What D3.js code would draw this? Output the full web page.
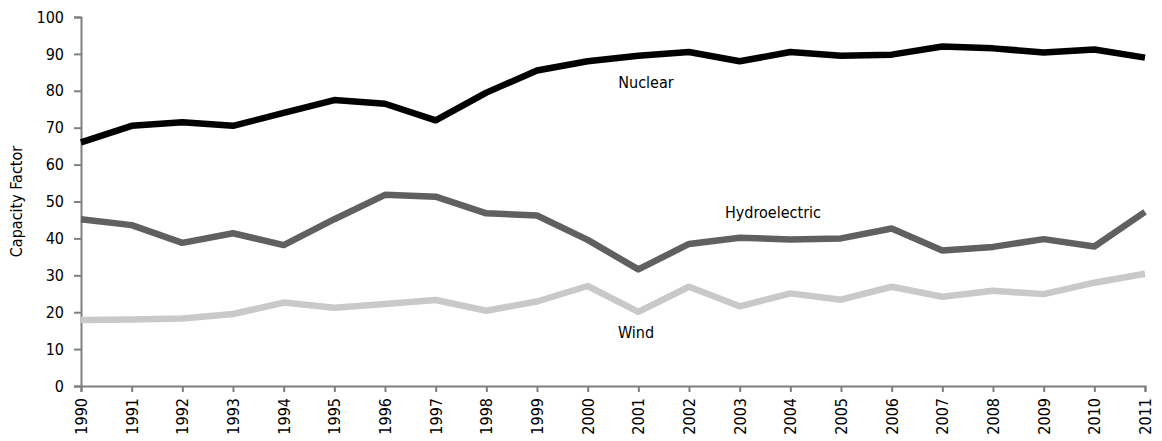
<!DOCTYPE html>
<html>
<head>
<meta charset="utf-8">
<script src="https://cdn.jsdelivr.net/npm/d3@7"></script>
<style>
  body { margin: 0; background: #fff; }
  text { font-family: "DejaVu Sans Condensed", "DejaVu Sans", sans-serif; }
</style>
</head>
<body>
<div id="capacity_factor"></div>
<script>
// data
var years = [1990, 1991, 1992, 1993, 1994, 1995, 1996, 1997, 1998, 1999, 2000,
             2001, 2002, 2003, 2004, 2005, 2006, 2007, 2008, 2009, 2010, 2011];
var nuclear = [66, 70.5, 71.5, 70.5, 74, 77.5, 76.5, 72, 79.5, 85.5, 88,
               89.5, 90.5, 88, 90.5, 89.5, 89.8, 92, 91.5, 90.4, 91.2, 89];
var hydro = [45.2, 43.6, 38.8, 41.4, 38.2, 45.2, 51.8, 51.3, 46.8, 46.2, 39.6,
             31.6, 38.5, 40.2, 39.7, 40, 42.7, 36.7, 37.7, 39.8, 37.8, 47.2];
var wind = [17.9, 18, 18.3, 19.5, 22.6, 21.2, 22.2, 23.3, 20.4, 22.9, 27.1,
            20.1, 26.9, 21.6, 25.1, 23.4, 26.9, 24.2, 25.8, 24.9, 28, 30.4];
var yTicks = [0, 10, 20, 30, 40, 50, 60, 70, 80, 90, 100];

var series = [
  {name: "Nuclear", values: nuclear, color: "#000000", lx: 646, ly: 88},
  {name: "Hydroelectric", values: hydro, color: "#606060", lx: 773, ly: 218},
  {name: "Wind", values: wind, color: "#c9c9c9", lx: 636, ly: 338}
];

// set the dimensions and margins of the graph
var margin = ({top: 17, right: 17, bottom: 55, left: 81}),
    width = 1162 - margin.left - margin.right,
    height = 441 - margin.top - margin.bottom;

let svg = d3.select("#capacity_factor")
  .append("svg")
    .attr("width", width + margin.left + margin.right)
    .attr("height", height + margin.top + margin.bottom)
  .append("g")
    .attr("transform", "translate(" + margin.left + "," + margin.top + ")");

let x = d3.scalePoint()
  .domain(years)
  .range([0, width]);

let y = d3.scaleLinear()
  .domain([0, 100])
  .range([height, 0]);

// Y axis
let yAxis = svg.append("g")
  .call(d3.axisLeft(y).tickValues(yTicks).tickSize(7).tickPadding(10));
yAxis.selectAll("text")
  .style("font-size", "16px")
  .attr("fill", "#000");

// X axis
let xAxis = svg.append("g")
  .attr("transform", "translate(0," + height + ")")
  .call(d3.axisBottom(x).tickSize(6).tickPadding(0));
xAxis.selectAll("text")
  .style("font-size", "16px")
  .attr("fill", "#000")
  .attr("transform", "rotate(-90)")
  .attr("x", -12)
  .attr("y", 0)
  .attr("dy", "0.35em")
  .style("text-anchor", "end");

svg.selectAll(".domain, .tick line")
  .attr("stroke", "#7f7f7f")
  .attr("stroke-width", 2);

// axis title
svg.append("text")
  .attr("transform", "rotate(-90)")
  .attr("x", -height / 2)
  .attr("y", -59)
  .attr("text-anchor", "middle")
  .style("font-size", "16px")
  .text("Capacity Factor");

// lines
let line = d3.line()
  .x((d, i) => x(years[i]))
  .y(d => y(d));

svg.selectAll(".series")
  .data(series)
  .enter()
  .append("path")
    .attr("class", "series")
    .attr("d", d => line(d.values))
    .attr("fill", "none")
    .attr("stroke", d => d.color)
    .attr("stroke-width", 6.5)
    .attr("stroke-linejoin", "round");

// series labels
svg.selectAll(".label")
  .data(series)
  .enter()
  .append("text")
    .attr("class", "label")
    .attr("x", d => d.lx - margin.left)
    .attr("y", d => d.ly - margin.top)
    .attr("text-anchor", "middle")
    .style("font-size", "16px")
    .text(d => d.name);
</script>
</body>
</html>
